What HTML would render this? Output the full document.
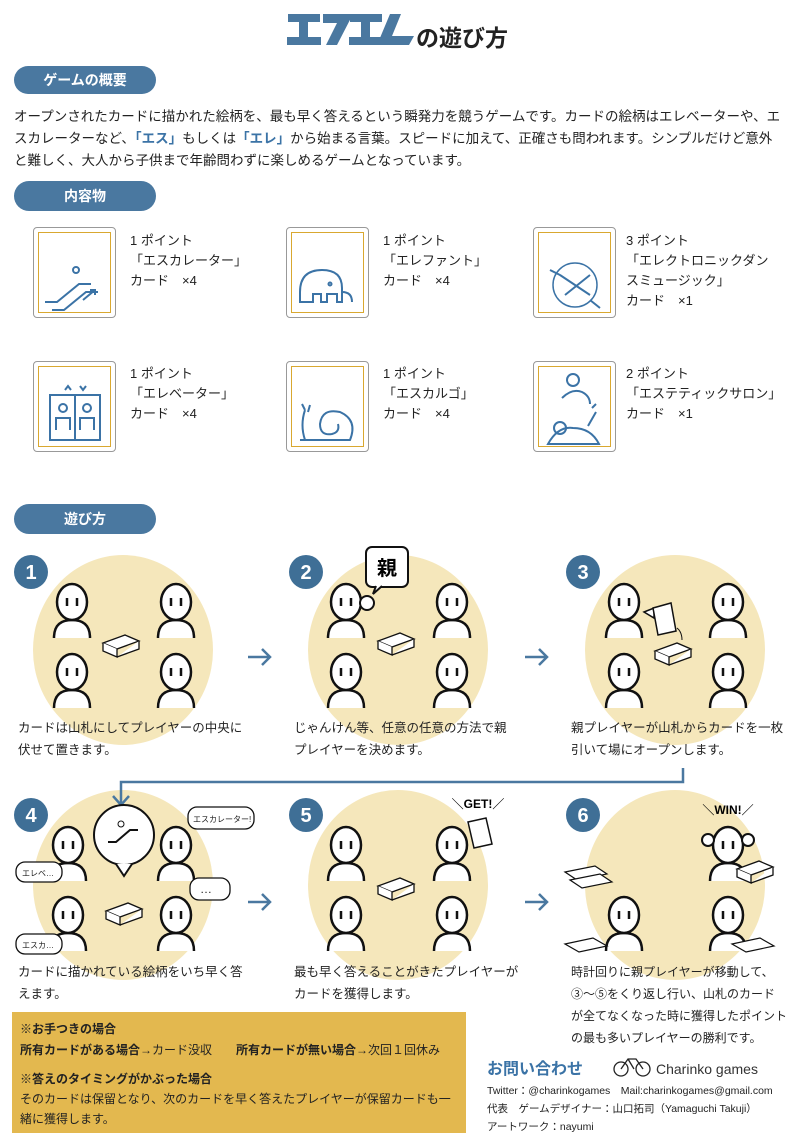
<!DOCTYPE html>
<html><head><meta charset="utf-8"><style>
body{margin:0;width:804px;height:1139px;background:#fff;position:relative;overflow:hidden;font-family:"Liberation Sans","Noto Sans CJK JP",sans-serif;color:#222}
.a{position:absolute}
.pill{position:absolute;left:14px;width:142px;height:30px;border-radius:15px;background:#4a78a0;color:#fff;font-weight:bold;font-size:14px;text-align:center;line-height:30px}
.t{position:absolute;font-size:12.5px;line-height:22px;white-space:nowrap;z-index:3}
.card{position:absolute;width:81px;height:89px;border:1px solid #999;border-radius:4px;background:#fff;z-index:0}
.card div{position:absolute;left:4px;top:4px;right:4px;bottom:4px;border:1.5px solid #d9a830}
.ct{position:absolute;font-size:13px;line-height:20px;white-space:nowrap}
.b{color:#3b73a6;font-weight:bold}
svg.top{z-index:2}
</style></head><body>
<div class="card" style="left:33px;top:227px"><div></div></div>
<div class="card" style="left:286px;top:227px"><div></div></div>
<div class="card" style="left:533px;top:227px"><div></div></div>
<div class="card" style="left:33px;top:361px"><div></div></div>
<div class="card" style="left:286px;top:361px"><div></div></div>
<div class="card" style="left:533px;top:361px"><div></div></div>
<svg class="a top" style="left:0;top:0" width="804" height="1139">
<defs>
<g id="f"><path d="M-18,36 C-18,22 -10,18 0,18 C10,18 18,22 18,36" fill="#fff" stroke="#111" stroke-width="2.5"/><ellipse cx="0" cy="0" rx="15" ry="18" fill="#fff" stroke="#111" stroke-width="2.5"/><path d="M-5,-4v8M5,-4v8" stroke="#111" stroke-width="2.5"/></g>
<g id="bx"><path d="M-18,-4 L4,-12 L18,-6 L-4,2 Z" fill="#fff" stroke="#111" stroke-width="1.3"/><path d="M-18,-4 v8 L-4,10 v-8 M-4,10 L18,2 v-8" fill="#fff" stroke="#111" stroke-width="1.3"/></g>
</defs>
<g fill="#4a78a0"><path d="M288,14h32v8h-12v15h13v8h-34v-8h12v-15h-11z"/>
<path d="M323,14h30l-16,31h-11l11,-22h-14z"/><path d="M350,14h32v8h-12v15h13v8h-34v-8h12v-15h-11z"/>
<path d="M390,14h11l-9,22h22l-5,9h-32z"/></g>
<g fill="#f5e7bb"><ellipse cx="123" cy="650" rx="90" ry="95"/><ellipse cx="398" cy="650" rx="90" ry="95"/><ellipse cx="675" cy="650" rx="90" ry="95"/>
<ellipse cx="123" cy="885" rx="90" ry="95"/><ellipse cx="398" cy="885" rx="90" ry="95"/><ellipse cx="675" cy="885" rx="90" ry="95"/></g>
<g fill="#3f6f96"><circle cx="31" cy="572" r="17"/><circle cx="306" cy="572" r="17"/><circle cx="583" cy="572" r="17"/><circle cx="31" cy="815" r="17"/><circle cx="306" cy="815" r="17"/><circle cx="583" cy="815" r="17"/></g>
<g fill="#fff" font-size="20" font-weight="bold" text-anchor="middle" font-family="Liberation Sans,sans-serif"><text x="31" y="579">1</text><text x="306" y="579">2</text><text x="583" y="579">3</text><text x="31" y="822">4</text><text x="306" y="822">5</text><text x="583" y="822">6</text></g>
<use href="#f" x="72" y="602"/><use href="#f" x="176" y="602"/><use href="#f" x="72" y="672"/><use href="#f" x="176" y="672"/><use href="#bx" x="121" y="647"/>
<use href="#f" x="346" y="602"/><use href="#f" x="452" y="602"/><use href="#f" x="346" y="672"/><use href="#f" x="452" y="672"/><use href="#bx" x="396" y="645"/>
<circle cx="367" cy="603" r="7" fill="#fff" stroke="#111" stroke-width="2"/>
<rect x="366" y="547" width="42" height="40" rx="6" fill="#fff" stroke="#111" stroke-width="2"/><path d="M376,586 l-3,8 l9,-8" fill="#fff" stroke="#111" stroke-width="2"/>
<text x="387" y="575" font-size="20" font-weight="bold" text-anchor="middle">親</text>
<use href="#f" x="624" y="602"/><use href="#f" x="728" y="602"/><use href="#f" x="624" y="672"/><use href="#f" x="728" y="672"/><use href="#bx" x="673" y="655"/>
<path d="M644,612 l10,-4 v10z" fill="#fff" stroke="#111" stroke-width="1.5"/><path d="M653,608 l18,-5 l5,28 l-18,4z" fill="#fff" stroke="#111" stroke-width="1.5"/><path d="M682,640 q0,-8 -5,-12" fill="none" stroke="#111" stroke-width="1"/>
<g stroke="#4a78a0" stroke-width="2.5" fill="none"><path d="M248,657h22M262,649l8,8l-8,8"/><path d="M525,657h22M539,649l8,8l-8,8"/><path d="M248,902h22M262,894l8,8l-8,8"/><path d="M525,902h22M539,894l8,8l-8,8"/>
<path d="M683,768v14H121v22"/><path d="M113,796l8,9l8,-9"/></g>
<use href="#f" x="68" y="845"/><use href="#f" x="176" y="845"/><use href="#f" x="68" y="915"/><use href="#f" x="176" y="915"/><use href="#bx" x="124" y="915"/>
<circle cx="124" cy="835" r="30" fill="#fff" stroke="#111" stroke-width="2"/><path d="M116,864 l8,12 l8,-12" fill="#fff" stroke="#111" stroke-width="2"/>
<path d="M108,842 h8 l14,-12 h8" fill="none" stroke="#111" stroke-width="2"/><circle cx="121" cy="824" r="3" fill="none" stroke="#111"/>
<g fill="#fff" stroke="#111" stroke-width="1.3"><rect x="188" y="807" width="66" height="22" rx="9"/><rect x="16" y="862" width="46" height="20" rx="9"/><rect x="190" y="878" width="40" height="22" rx="9"/><rect x="16" y="934" width="46" height="20" rx="9"/></g>
<g font-size="8" fill="#222"><text x="193" y="822">エスカレーター!</text><text x="22" y="876">エレベ…</text><text x="22" y="948">エスカ…</text><text x="200" y="893" font-size="12">…</text></g>
<use href="#f" x="346" y="845"/><use href="#f" x="452" y="845"/><use href="#f" x="346" y="915"/><use href="#f" x="452" y="915"/><use href="#bx" x="396" y="890"/>
<path d="M468,822 l18,-4 l6,26 l-18,4z" fill="#fff" stroke="#111" stroke-width="1.5"/>
<text x="478" y="808" font-size="12" font-weight="bold" text-anchor="middle">＼GET!／</text>
<use href="#f" x="728" y="845"/><use href="#f" x="624" y="915"/><use href="#f" x="728" y="915"/>
<circle cx="708" cy="840" r="6" fill="#fff" stroke="#111" stroke-width="2"/><circle cx="748" cy="840" r="6" fill="#fff" stroke="#111" stroke-width="2"/>
<use href="#bx" x="755" y="873"/>
<text x="728" y="814" font-size="12" font-weight="bold" text-anchor="middle">＼WIN!／</text>
<g fill="#fff" stroke="#111" stroke-width="1.2"><path d="M565,872 l30,-6 l12,8 l-30,6z"/><path d="M570,880 l30,-6 l12,8 l-30,6z"/><path d="M565,944 l28,-6 l14,8 l-28,6z"/><path d="M732,944 l28,-6 l14,8 l-28,6z"/></g>
<g stroke="#3b73a6" stroke-width="2" fill="none">
<path d="M45,302 h12 l22,-18 h12"/><path d="M52,310 h12 l22,-18 h12"/><circle cx="76" cy="270" r="3"/><path d="M83,300 l12,-10 M90,290 h5 v5"/>
<path d="M300,302 v-10 q0,-22 22,-22 q20,0 20,18 v14 h-5 v-8 h-10 v8 h-6 v-8 h-8 v8 h-6 z"/><path d="M342,292 q10,0 10,10"/><circle cx="330" cy="284" r="1.5"/>
<circle cx="575" cy="285" r="22" stroke-width="1.5"/><path d="M560,275 l30,20 M565,295 l25,-20 M550,270 l10,5 M590,300 l10,8"/>
<rect x="50" y="395" width="50" height="45"/><path d="M75,395 v45 M65,390 l3,-4 l3,4 M80,386 l3,4 l3,-4"/><circle cx="63" cy="408" r="4"/><circle cx="87" cy="408" r="4"/><path d="M56,430 v-12 h14 v12 M80,430 v-12 h14 v12"/>
<path d="M300,440 h50 q8,-20 -10,-28 q-18,-4 -20,12 q0,12 12,10 q8,-2 6,-10"/><path d="M305,440 q-5,-15 0,-30 M305,410 l-3,-6 M308,412 l2,-7"/>
<circle cx="573" cy="380" r="6"/><path d="M562,398 q10,-10 20,-6 q8,4 8,12"/><path d="M548,444 q10,-18 25,-16 q18,0 26,16 z"/><circle cx="560" cy="428" r="6"/><path d="M596,412 l-8,14 M592,408 l4,-4"/>
</g>
</svg>
<div class="a" style="left:416px;top:19px;font-size:23px;font-weight:bold;color:#222">の遊び方</div>
<div class="pill" style="top:66px;height:28px;line-height:28px">ゲームの概要</div>
<div class="t" style="left:14px;top:106px;font-size:13.5px">オープンされたカードに描かれた絵柄を、最も早く答えるという瞬発力を競うゲームです。カードの絵柄はエレベーターや、エ<br>スカレーターなど、<span class="b">「エス」</span>もしくは<span class="b">「エレ」</span>から始まる言葉。スピードに加えて、正確さも問われます。シンプルだけど意外<br>と難しく、大人から子供まで年齢問わずに楽しめるゲームとなっています。</div>
<div class="pill" style="top:181px">内容物</div>
<div class="ct" style="left:130px;top:231px">1 ポイント<br>「エスカレーター」<br>カード　×4</div>
<div class="ct" style="left:383px;top:231px">1 ポイント<br>「エレファント」<br>カード　×4</div>
<div class="ct" style="left:626px;top:231px">3 ポイント<br>「エレクトロニックダン<br>スミュージック」<br>カード　×1</div>
<div class="ct" style="left:130px;top:364px">1 ポイント<br>「エレベーター」<br>カード　×4</div>
<div class="ct" style="left:383px;top:364px">1 ポイント<br>「エスカルゴ」<br>カード　×4</div>
<div class="ct" style="left:626px;top:364px">2 ポイント<br>「エステティックサロン」<br>カード　×1</div>
<div class="pill" style="top:504px">遊び方</div>
<div class="t" style="left:18px;top:717px">カードは山札にしてプレイヤーの中央に<br>伏せて置きます。</div>
<div class="t" style="left:294px;top:717px">じゃんけん等、任意の任意の方法で親<br>プレイヤーを決めます。</div>
<div class="t" style="left:571px;top:717px">親プレイヤーが山札からカードを一枚<br>引いて場にオープンします。</div>
<div class="t" style="left:18px;top:961px">カードに描かれている絵柄をいち早く答<br>えます。</div>
<div class="t" style="left:294px;top:961px">最も早く答えることがきたプレイヤーが<br>カードを獲得します。</div>
<div class="t" style="left:571px;top:961px;font-size:12px">時計回りに親プレイヤーが移動して、<br>③～⑤をくり返し行い、山札のカード<br>が全てなくなった時に獲得したポイント<br>の最も多いプレイヤーの勝利です。</div>
<div class="a" style="left:12px;top:1012px;width:454px;height:121px;background:#e3b84f;z-index:3"></div>
<div class="t" style="left:20px;top:1019px;font-size:12px;line-height:21px;z-index:4"><b>※お手つきの場合</b><br><b>所有カードがある場合</b>→カード没収　　<b>所有カードが無い場合</b>→次回１回休み</div>
<div class="t" style="left:20px;top:1069px;font-size:12px;line-height:20px;z-index:4"><b>※答えのタイミングがかぶった場合</b><br>そのカードは保留となり、次のカードを早く答えたプレイヤーが保留カードも一<br>緒に獲得します。</div>
<div class="a" style="left:487px;top:1055px;font-size:16px;font-weight:bold;color:#3b73a6">お問い合わせ</div>
<svg class="a" style="left:612px;top:1056px" width="40" height="22"><g fill="none" stroke="#222" stroke-width="1.3"><circle cx="9" cy="13" r="7"/><circle cx="31" cy="13" r="7"/><path d="M9,13 l7,-10 h8 l7,10 M16,3 l6,10"/></g></svg>
<div class="a" style="left:656px;top:1061px;font-size:14px;color:#333">Charinko games</div>
<div class="t" style="left:487px;top:1082px;font-size:10.5px;line-height:18px">Twitter：@charinkogames　Mail:charinkogames@gmail.com<br>代表　ゲームデザイナー：山口拓司（Yamaguchi Takuji）<br>アートワーク：nayumi</div>
</body></html>
